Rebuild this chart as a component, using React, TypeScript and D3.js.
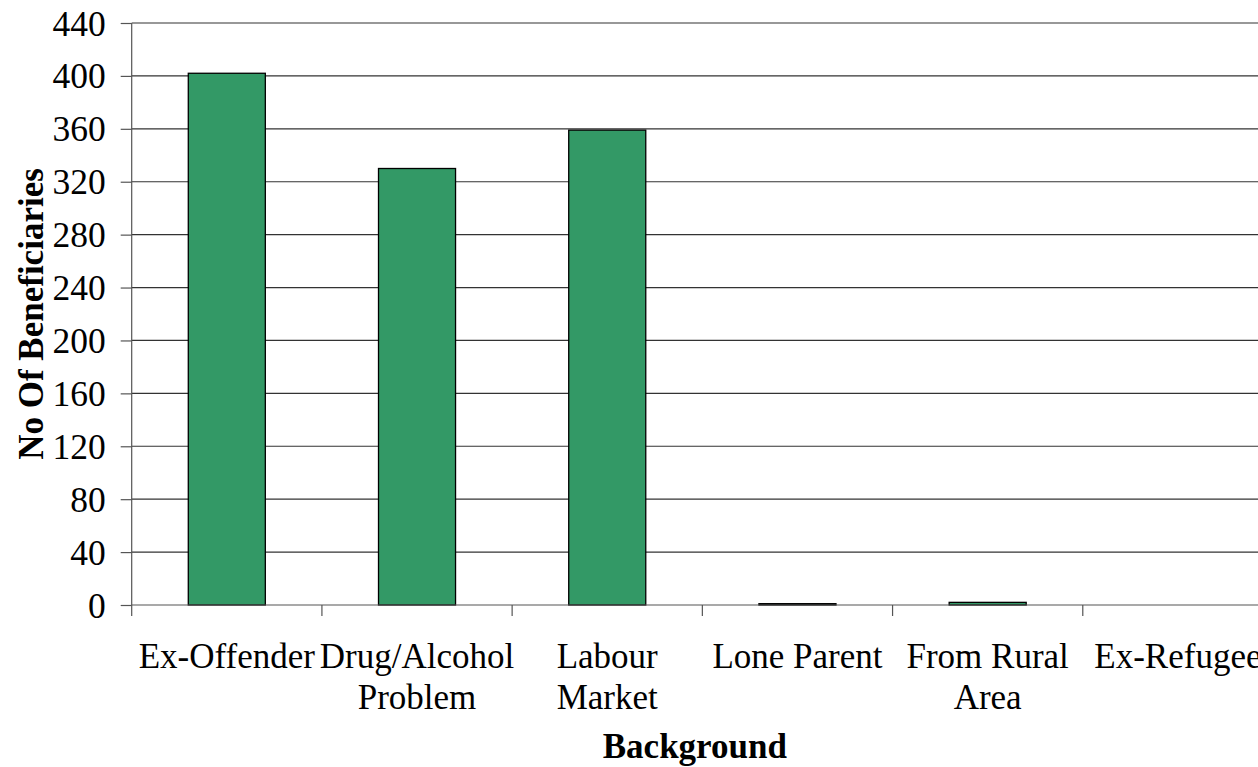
import React, { useEffect, useRef } from "react";
import * as d3 from "d3";

const categories = ["Ex-Offender", "Drug/Alcohol Problem", "Labour Market", "Lone Parent", "From Rural Area", "Ex-Refugee"];
const categoryLines = [["Ex-Offender"], ["Drug/Alcohol", "Problem"], ["Labour", "Market"], ["Lone Parent"], ["From Rural", "Area"], ["Ex-Refugee"]];
const values = [402, 330, 359, 1, 2, 0];
const yTicks = [0, 40, 80, 120, 160, 200, 240, 280, 320, 360, 400, 440];
const xTitle = "Background";
const yTitle = "No Of Beneficiaries";

const W = 1258, H = 767;
const left = 131.7, right = 1273, top = 23, bottom = 605;
const FONT = "'Liberation Serif', 'Times New Roman', serif";

export default function App() {
  const ref = useRef<SVGSVGElement>(null);
  useEffect(() => {
    const svg = d3.select(ref.current);
    svg.selectAll("*").remove();
    const x = d3.scaleBand().domain(categories).range([left, right]).paddingInner(0.595).paddingOuter(0.2975);
    const y = d3.scaleLinear().domain([0, 440]).range([bottom, top]);
    const step = (right - left) / categories.length;

    svg.append("g").selectAll("line").data(yTicks.filter(t => t > 0)).join("line")
      .attr("x1", left).attr("x2", W).attr("y1", d => y(d)).attr("y2", d => y(d))
      .attr("stroke", "#333").attr("stroke-width", 1.2);

    svg.append("g").selectAll("rect").data(values).join("rect")
      .attr("x", (d, i) => x(categories[i])!)
      .attr("width", x.bandwidth())
      .attr("y", d => y(d))
      .attr("height", d => bottom - y(d))
      .attr("fill", "#339966").attr("stroke", "#000").attr("stroke-width", 1.3);

    const ya = svg.append("g").attr("transform", `translate(${left},0)`)
      .call(d3.axisLeft(y).tickValues(yTicks).tickSize(11).tickPadding(15).tickFormat(d3.format("d")));
    ya.attr("font-family", FONT);
    ya.select(".domain").attr("stroke", "#555").attr("stroke-width", 1.2).attr("d", `M0,${top}V${bottom}`);
    ya.selectAll(".tick line").attr("stroke", "#555").attr("stroke-width", 1.2);
    ya.selectAll("text").style("font-family", FONT).attr("font-size", 35.5).attr("fill", "#000").attr("dy", "0.34em");

    svg.append("line").attr("x1", left).attr("x2", W).attr("y1", bottom).attr("y2", bottom)
      .attr("stroke", "#555").attr("stroke-width", 1.2);
    svg.append("g").selectAll("line").data(d3.range(categories.length)).join("line")
      .attr("x1", i => left + i * step).attr("x2", i => left + i * step)
      .attr("y1", bottom).attr("y2", bottom + 11)
      .attr("stroke", "#555").attr("stroke-width", 1.2);

    const lg = svg.append("g");
    categoryLines.forEach((lines, i) => {
      const cx = x(categories[i])! + x.bandwidth() / 2;
      lines.forEach((ln, j) => {
        lg.append("text").attr("x", cx).attr("y", 668 + j * 41)
          .attr("text-anchor", "middle").style("font-family", FONT).attr("font-size", 35)
          .attr("fill", "#000").text(ln);
      });
    });

    svg.append("text").attr("x", (left + W) / 2).attr("y", 758).attr("text-anchor", "middle")
      .style("font-family", FONT).attr("font-weight", "bold").attr("font-size", 35).text(xTitle);
    svg.append("text").attr("transform", `translate(43,${(top + bottom) / 2}) rotate(-90)`)
      .attr("text-anchor", "middle").style("font-family", FONT).attr("font-weight", "bold")
      .attr("font-size", 35).text(yTitle);
  }, []);
  return (
    <svg ref={ref} width={W} height={H} style={{ position: "absolute", left: 0, top: 0, background: "#fff" }} />
  );
}
